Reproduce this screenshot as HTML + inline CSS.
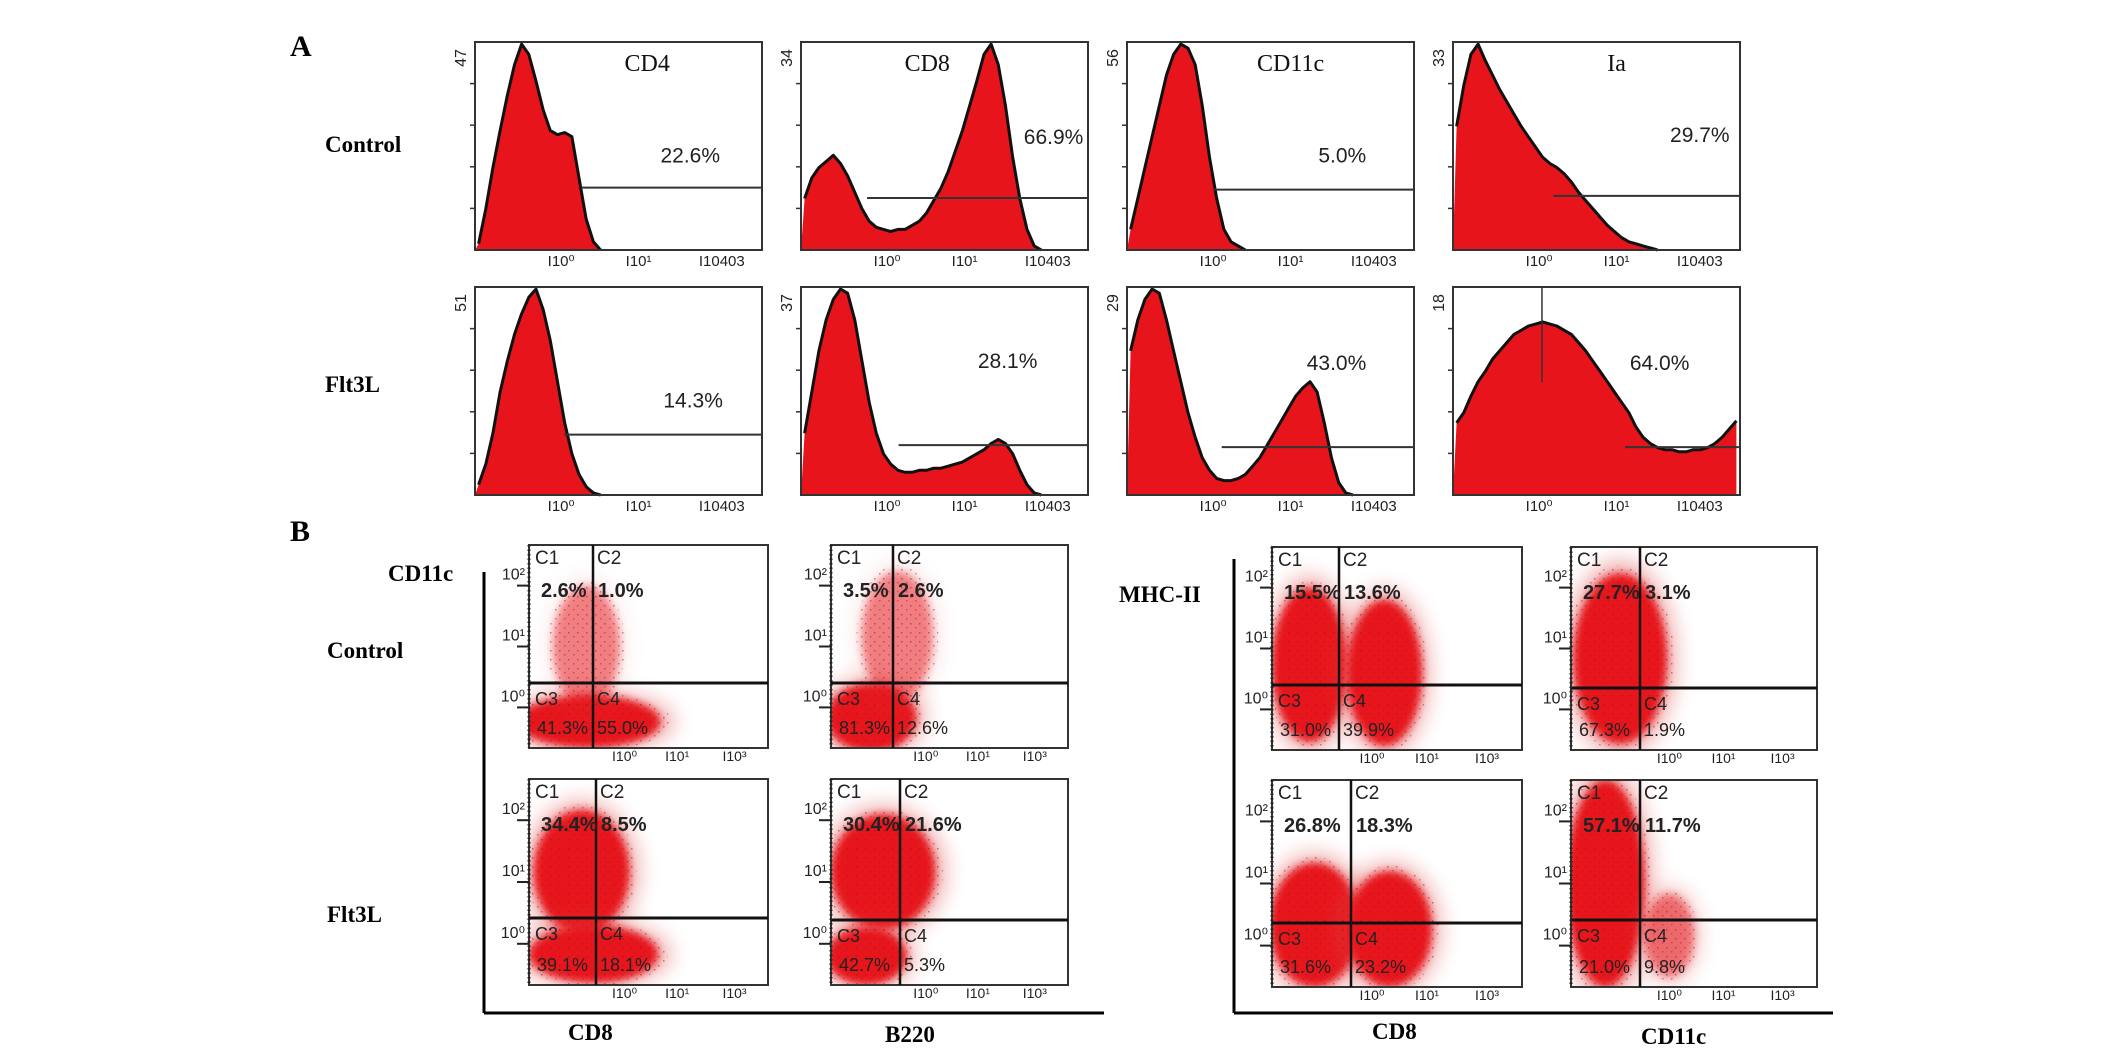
<!DOCTYPE html>
<html><head><meta charset="utf-8"><style>
html,body{margin:0;padding:0;background:#fff;}
svg{display:block;}
.lbl{font-family:"Liberation Serif",serif;font-weight:bold;fill:#000;}
.num{font-family:"Liberation Sans",sans-serif;fill:#222;}
</style></head><body>
<svg id="fig" width="2126" height="1050" viewBox="0 0 2126 1050" xmlns="http://www.w3.org/2000/svg">
<defs>
<filter id="blur" x="-50%" y="-50%" width="200%" height="200%"><feGaussianBlur stdDeviation="4"/></filter>
<filter id="blur2" x="-50%" y="-50%" width="200%" height="200%"><feGaussianBlur stdDeviation="10"/></filter>
<pattern id="speck" width="9" height="9" patternUnits="userSpaceOnUse"><rect x="1" y="2" width="1.5" height="1.5" fill="#7a2020"/><rect x="6" y="6" width="1.5" height="1.5" fill="#a02525"/></pattern>
</defs>
<text class="lbl" x="290" y="56" font-size="30">A</text>
<text class="lbl" x="290" y="541" font-size="30">B</text>
<text class="lbl" x="325" y="152" font-size="23">Control</text>
<text class="lbl" x="325" y="392" font-size="23">Flt3L</text>
<text class="lbl" x="388" y="581" font-size="23">CD11c</text>
<text class="lbl" x="327" y="658" font-size="23">Control</text>
<text class="lbl" x="327" y="922" font-size="23">Flt3L</text>
<text class="lbl" x="1119" y="602" font-size="23">MHC-II</text>
<text class="lbl" x="568" y="1040" font-size="23">CD8</text>
<text class="lbl" x="885" y="1042" font-size="23">B220</text>
<text class="lbl" x="1372" y="1039" font-size="23">CD8</text>
<text class="lbl" x="1641" y="1044" font-size="23">CD11c</text>
<line x1="484" y1="572" x2="484" y2="1013" stroke="#000" stroke-width="3"/>
<line x1="484" y1="1013" x2="1104" y2="1013" stroke="#000" stroke-width="3"/>
<line x1="1234" y1="559" x2="1234" y2="1013" stroke="#000" stroke-width="3"/>
<line x1="1234" y1="1013" x2="1833" y2="1013" stroke="#000" stroke-width="3"/>
</svg>
<script>
// ---- Panel A histogram data (bin heights, % of box height) ----
const histTitles = ["CD4","CD8","CD11c","Ia"];
const histMaxCtl = ["47","34","56","33"];
const histMaxFlt = ["51","37","29","18"];
const histPctCtl = ["22.6%","66.9%","5.0%","29.7%"];
const histPctFlt = ["14.3%","28.1%","43.0%","64.0%"];
const cd4Ctl = [3,20,40,58,75,90,100,95,82,68,58,56,57,55,35,15,4,0];
const cd8Ctl = [25,35,40,43,46,42,36,28,20,14,11,10,9,10,10,12,14,18,24,30,38,48,58,70,82,95,100,90,70,45,25,10,2,0];
const cd11cCtl = [10,25,40,55,70,85,95,100,98,90,70,45,25,10,4,2,0];
const iaCtl = [60,80,95,100,92,85,78,72,66,60,55,50,45,42,40,37,33,28,24,20,16,12,9,6,4,3,2,1,0];
const cd4Flt = [5,15,30,50,65,78,88,96,100,90,75,55,35,20,10,4,1,0];
const cd8Flt = [30,50,70,85,95,100,98,85,65,45,30,20,15,12,11,11,12,12,13,13,14,15,16,18,20,22,25,27,25,20,12,5,1,0];
const cd11cFlt = [70,85,95,100,98,85,70,55,40,28,18,12,8,7,7,8,10,14,18,24,30,36,42,48,52,55,50,35,18,6,1,0];
const iaFlt = [35,40,48,55,60,66,70,74,78,80,82,83,84,83,82,80,78,74,70,65,60,55,50,45,40,33,28,25,23,22,22,21,21,22,22,23,25,28,32,36];
const gateStartCtl = [0.37,0.23,0.3,0.35];
const gateLevelCtl = [0.70,0.75,0.71,0.74];
const gateStartFlt = [0.31,0.34,0.33,0.6];
const gateLevelFlt = [0.71,0.76,0.77,0.77];
const BINS = 40;

// ---- Panel B scatter data ----
const quadPctTop = [["2.6%","1.0%"],["3.5%","2.6%"],["15.5%","13.6%"],["27.7%","3.1%"],["34.4%","8.5%"],["30.4%","21.6%"],["26.8%","18.3%"],["57.1%","11.7%"]];
const quadPctBot = [["41.3%","55.0%"],["81.3%","12.6%"],["31.0%","39.9%"],["67.3%","1.9%"],["39.1%","18.1%"],["42.7%","5.3%"],["31.6%","23.2%"],["21.0%","9.8%"]];
// cluster: [cx, cy, rx, ry, density] in box fractions
const clusters = [
 [[0.25,0.87,0.3,0.13,1],[0.24,0.5,0.14,0.3,0.25]],
 [[0.17,0.85,0.19,0.17,1],[0.28,0.45,0.15,0.32,0.3]],
 [[0.15,0.58,0.15,0.38,1],[0.45,0.62,0.15,0.36,1]],
 [[0.2,0.55,0.19,0.42,1]],
 [[0.22,0.45,0.2,0.3,1],[0.27,0.85,0.27,0.14,1]],
 [[0.22,0.45,0.22,0.28,1],[0.15,0.86,0.17,0.14,1]],
 [[0.17,0.7,0.18,0.3,1],[0.47,0.72,0.17,0.28,1]],
 [[0.14,0.5,0.16,0.5,1],[0.4,0.75,0.1,0.2,0.8]]
];

const svg = document.getElementById('fig');
const NS = 'http://www.w3.org/2000/svg';
function mk(tag, attrs, parent){const e=document.createElementNS(NS,tag);for(const k in attrs)e.setAttribute(k,attrs[k]);(parent||svg).appendChild(e);return e;}
function txt(x,y,s,size,cls,parent,anchor){const t=mk('text',{x:x,y:y,'font-size':size,'class':cls,'text-anchor':anchor||'start'},parent);t.textContent=s;return t;}

const histLefts = [475,801,1127,1453];
const histW = 287, histH = 208;
const rowTops = [42,287];
const ctlSets = [cd4Ctl,cd8Ctl,cd11cCtl,iaCtl];
const fltSets = [cd4Flt,cd8Flt,cd11cFlt,iaFlt];
const titleFrac = [0.6,0.44,0.57,0.57];

function xScale(x0,w,i){return x0 + (i+0.5)/BINS*w;}
function yScale(y0,h,v){return y0 + h - v/100*h*0.99;}

for(let r=0;r<2;r++){
 for(let c=0;c<4;c++){
  const x0=histLefts[c], y0=rowTops[r];
  const data = r===0?ctlSets[c]:fltSets[c];
  const g = mk('g',{});
  
  
  let d='M'+x0+','+(y0+histH);
  let top='';
  data.forEach((v,i)=>{const px=xScale(x0,histW,i), py=yScale(y0,histH,v);d+=' L'+px.toFixed(1)+','+py.toFixed(1);top+=(i?' L':'M')+px.toFixed(1)+','+py.toFixed(1);});
  const lastX = xScale(x0,histW,data.length-1);
  d+=' L'+lastX.toFixed(1)+','+(y0+histH)+' Z';
  const area=mk('path',{d:d,fill:'#e8141b'},g);
  
  
  const ln=mk('path',{d:top,fill:'none',stroke:'#111','stroke-width':3,'stroke-linejoin':'round'},g);
  
  
  const box=mk('rect',{x:x0,y:y0,width:histW,height:histH,fill:'none',stroke:'#333','stroke-width':2},g);
  
  
  for(let k=1;k<5;k++){const ty=y0+histH*k/5;const t=mk('line',{x1:x0-5,y1:ty,x2:x0,y2:ty,stroke:'#333','stroke-width':1.5},g);}
  const ym=txt(0,0,r===0?histMaxCtl[c]:histMaxFlt[c],16,'num',g,'middle');
  ym.setAttribute('transform','translate('+(x0-9)+','+(y0+16)+') rotate(-90)');
  
  
  const gs = r===0?gateStartCtl[c]:gateStartFlt[c];
  const gl = r===0?gateLevelCtl[c]:gateLevelFlt[c];
  const gate=mk('line',{x1:x0+gs*histW,y1:y0+gl*histH,x2:x0+histW,y2:y0+gl*histH,stroke:'#333','stroke-width':2},g);
  
  
  if(r===1&&c===3){const v=mk('line',{x1:x0+0.31*histW,y1:y0,x2:x0+0.31*histW,y2:y0+95,stroke:'#333','stroke-width':1.5},g);}
  const pxs=[[0.75,0.58],[0.88,0.49],[0.75,0.58],[0.86,0.48]];
  const pxf=[[0.76,0.58],[0.72,0.39],[0.73,0.40],[0.72,0.40]];
  const pp = r===0?pxs[c]:pxf[c];
  const pt=txt(x0+pp[0]*histW,y0+pp[1]*histH,r===0?histPctCtl[c]:histPctFlt[c],21,'num',g,'middle');
  
  
  if(r===0){const tt=mk('text',{x:x0+titleFrac[c]*histW,y:y0+29,'font-size':24,'text-anchor':'middle','font-family':'Liberation Serif, serif',fill:'#111'},g);tt.textContent=histTitles[c];}
  [['I10⁰',0.3],['I10¹',0.57],['I10403',0.86]].forEach(a=>{const t=txt(x0+a[1]*histW,y0+histH+16,a[0],15,'num',g,'middle');t.setAttribute('fill','#555');});
 }
}

const sboxes = [
 [529,545,239,203,593,683],[831,545,237,203,893,683],[1272,547,250,203,1339,685],[1571,547,246,203,1640,688],
 [529,779,239,206,596,918],[831,779,237,206,900,920],[1272,780,250,207,1351,923],[1571,780,246,207,1640,920]
];
const sNames=['cd8-control','b220-control','cd8-mhc-control','cd11c-mhc-control','cd8-flt3l','b220-flt3l','cd8-mhc-flt3l','cd11c-mhc-flt3l'];
sboxes.forEach((b,i)=>{
 const [x,y,w,h,vx,hy]=b;
 const g=mk('g',{});
 
 
 const cp=mk('clipPath',{id:'cp'+i},g);mk('rect',{x:x,y:y,width:w,height:h},cp);
 const cg=mk('g',{'clip-path':'url(#cp'+i+')'},g);
 clusters[i].forEach(cl=>{
  const cx=x+cl[0]*w, cy=y+cl[1]*h, rx=cl[2]*w, ry=cl[3]*h;
  const halo=mk('ellipse',{cx:cx,cy:cy,rx:rx*1.2,ry:ry*1.15,fill:'#e04848',opacity:0.45*cl[4],filter:'url(#blur2)'},cg);
  
  
  const core=mk('ellipse',{cx:cx,cy:cy,rx:rx,ry:ry,fill:'#e8141b',opacity:cl[4]<1?0.5:1,filter:'url(#blur)'},cg);
  
  
  const sp=mk('ellipse',{cx:cx,cy:cy,rx:rx*1.15,ry:ry*1.1,fill:'url(#speck)',opacity:0.5},cg);
  
  
 });
 const fr=mk('rect',{x:x,y:y,width:w,height:h,fill:'none',stroke:'#333','stroke-width':2},g);
 
 
 const vl=mk('line',{x1:vx,y1:y,x2:vx,y2:y+h,stroke:'#111','stroke-width':2.5},g);
 
 
 const hl=mk('line',{x1:x,y1:hy,x2:x+w,y2:hy,stroke:'#111','stroke-width':3},g);
 
 
 const ru=mk('line',{x1:x,y1:y,x2:x,y2:y+h,stroke:'#222','stroke-width':3,'stroke-dasharray':'1.5 3'},g);
 
 
 [['10²',0.2],['10¹',0.5],['10⁰',0.8]].forEach(a=>{const t=txt(x-4,y+a[1]*h-6,a[0],16,'num',g,'end');t.setAttribute('fill','#555');
  const tk=mk('line',{x1:x-12,y1:y+a[1]*h,x2:x,y2:y+a[1]*h,stroke:'#222','stroke-width':2},g);});
 [['I10⁰',0.4],['I10¹',0.62],['I10³',0.86]].forEach(a=>{const t=txt(x+a[1]*w,y+h+13,a[0],14,'num',g,'middle');t.setAttribute('fill','#666');});
 const c1=txt(x+6,y+19,'C1',19,'num',g);
 const c2=txt(vx+4,y+19,'C2',19,'num',g);
 const p1=txt(x+12,y+52,quadPctTop[i][0],20,'num',g);p1.setAttribute('font-weight','bold');
 const p2=txt(vx+5,y+52,quadPctTop[i][1],20,'num',g);p2.setAttribute('font-weight','bold');
 const c3=txt(x+6,hy+22,'C3',18,'num',g);c3.setAttribute('fill','#7a1a1a');
 const c4=txt(vx+4,hy+22,'C4',18,'num',g);c4.setAttribute('fill','#7a1a1a');
 const p3=txt(x+8,y+h-14,quadPctBot[i][0],18,'num',g);p3.setAttribute('fill','#7a1a1a');
 const p4=txt(vx+4,y+h-14,quadPctBot[i][1],18,'num',g);p4.setAttribute('fill','#5a1a1a');
});
</script>
</body></html>
